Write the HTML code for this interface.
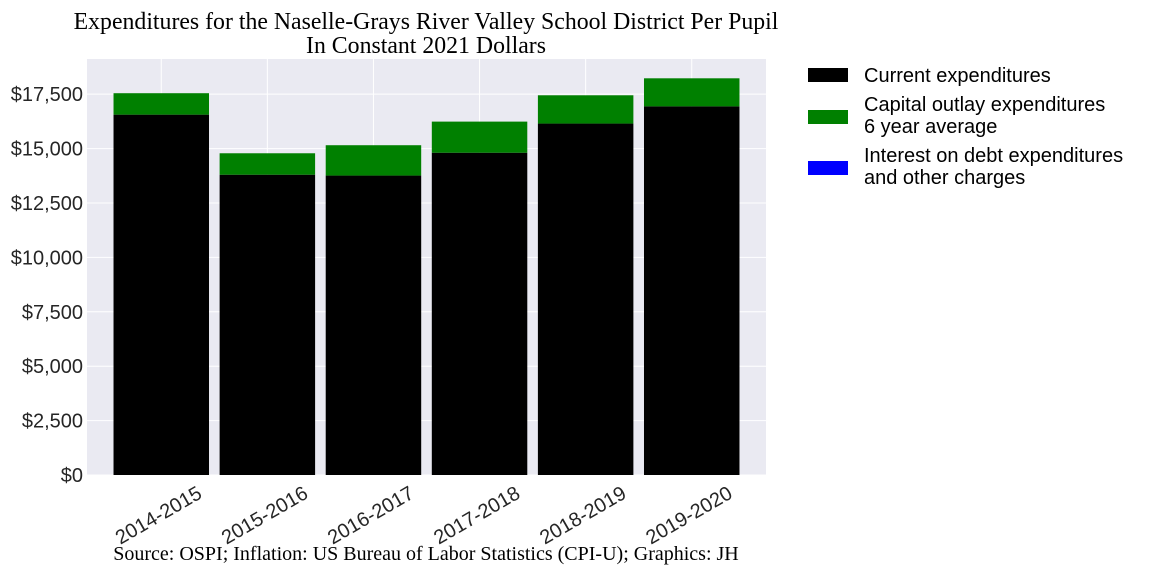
<!DOCTYPE html>
<html><head><meta charset="utf-8"><style>
body{margin:0;background:#fff;width:1152px;height:576px;overflow:hidden}
svg text{font-family:"Liberation Sans",sans-serif}
</style></head><body>
<svg id="c" width="1152" height="576">
<text x="426" y="29" text-anchor="middle" style="font-family:'Liberation Serif',serif;font-size:23.8px" fill="#000">Expenditures for the Naselle-Grays River Valley School District Per Pupil</text>
<text x="426" y="53" text-anchor="middle" style="font-family:'Liberation Serif',serif;font-size:23.8px" fill="#000">In Constant 2021 Dollars</text>
<rect x="87" y="59" width="679" height="416" fill="#eaeaf2"/>
<g id="grid"></g><g id="bars"></g><g id="axes"></g>
<text x="426" y="560" text-anchor="middle" style="font-family:'Liberation Serif',serif;font-size:20px" fill="#000">Source: OSPI; Inflation: US Bureau of Labor Statistics (CPI-U); Graphics: JH</text>
<g>
<rect x="808" y="68" width="40" height="14" fill="#000"/>
<text x="864" y="82" font-size="20" fill="#000">Current expenditures</text>
<rect x="808" y="110" width="40" height="14" fill="#008000"/>
<text x="864" y="111" font-size="20" fill="#000">Capital outlay expenditures</text>
<text x="864" y="133" font-size="20" fill="#000">6 year average</text>
<rect x="808" y="161" width="40" height="14" fill="#0000ff"/>
<text x="864" y="162" font-size="20" fill="#000">Interest on debt expenditures</text>
<text x="864" y="184" font-size="20" fill="#000">and other charges</text>
</g>
</svg>
<script>
const categories=["2014-2015","2015-2016","2016-2017","2017-2018","2018-2019","2019-2020"];
const currentVals=[16560,13800,13760,14810,16150,16940];
const capitalVals=[985,985,1395,1430,1300,1290];
const interestVals=[0,0,0,0,0,0];
const yTicks=[0,2500,5000,7500,10000,12500,15000,17500];
const NS="http://www.w3.org/2000/svg";
const yMax=19117,pTop=59,pBot=475,pLeft=87,pRight=766;
function y(v){return pBot-(v/yMax)*(pBot-pTop);}
function x(i){return pLeft+(i+0.7)*(pRight-pLeft)/(categories.length+0.4);}
const bw=0.9*(pRight-pLeft)/(categories.length+0.4);
function mk(t,a,p){const e=document.createElementNS(NS,t);for(const k in a)e.setAttribute(k,a[k]);p.appendChild(e);return e;}
const g=document.getElementById('grid'),b=document.getElementById('bars'),ax=document.getElementById('axes');
yTicks.forEach(v=>{
 const l=mk('line',{x1:pLeft,x2:pRight,y1:y(v),y2:y(v),stroke:'#fff','stroke-width':1},g);
 
 
 const t=mk('text',{x:pLeft-4,y:y(v)+7,'text-anchor':'end','font-size':20,fill:'#262626'},ax);
 t.textContent='$'+v.toLocaleString('en-US');
 
 
});
categories.forEach((c,i)=>{
 const l=mk('line',{x1:x(i),x2:x(i),y1:pTop,y2:pBot,stroke:'#fff','stroke-width':1},g);
 
 
 const r1=mk('rect',{x:x(i)-bw/2,width:bw,y:y(currentVals[i]),height:pBot-y(currentVals[i]),fill:'#000'},b);
 
 
 const s=currentVals[i]+capitalVals[i];
 const r2=mk('rect',{x:x(i)-bw/2,width:bw,y:y(s),height:y(currentVals[i])-y(s),fill:'#008000'},b);
 
 
 const s2=s+interestVals[i];
 const r3=mk('rect',{x:x(i)-bw/2,width:bw,y:y(s2),height:y(s)-y(s2),fill:'#0000ff'},b);
 
 
 const t=mk('text',{x:x(i)+42,y:pBot+22,'text-anchor':'end','font-size':20,fill:'#262626',transform:`rotate(-30 ${x(i)+42} ${pBot+22})`},ax);
 t.textContent=c;
 
 
});
</script>
</body></html>
